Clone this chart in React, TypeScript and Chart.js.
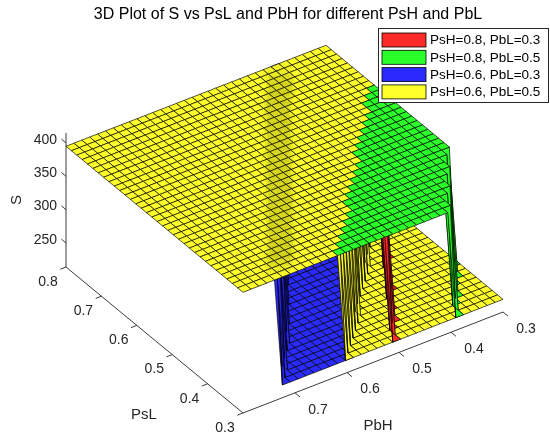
import React, { useEffect, useRef } from "react";
import { Chart, registerables } from "chart.js";

Chart.register(...registerables);

// ---------------- data ----------------
const TITLE = "3D Plot of S vs PsL and PbH for different PsH and PbL";

// surface grid (rows = PsL, columns = PbH)
const PSL = [0.3, 0.3152, 0.3303, 0.3455, 0.3606, 0.3758, 0.3909, 0.4061, 0.4212, 0.4364, 0.4515, 0.4667, 0.4818, 0.497, 0.5121, 0.5273, 0.5424, 0.5576, 0.5727, 0.5879, 0.603, 0.6182, 0.6333, 0.6485, 0.6636, 0.6788, 0.6939, 0.7091, 0.7242, 0.7394, 0.7545, 0.7697, 0.7848, 0.8];
const PBH = [0.3, 0.3152, 0.3303, 0.3455, 0.3606, 0.3758, 0.3909, 0.4061, 0.4212, 0.4364, 0.4515, 0.4667, 0.4818, 0.497, 0.5121, 0.5273, 0.5424, 0.5576, 0.5727, 0.5879, 0.603, 0.6182, 0.6333, 0.6485, 0.6636, 0.6788, 0.6939, 0.7091, 0.7242, 0.7394, 0.7545, 0.7697, 0.7848, 0.8];

const SERIES_LABELS = ["PsH=0.8, PbL=0.3", "PsH=0.8, PbL=0.5", "PsH=0.6, PbL=0.3", "PsH=0.6, PbL=0.5"];
const SERIES_COLORS = ["#ff2a2a", "#2aff2a", "#2a2aff", "#ffff2a"];
const S_HIGH = [395, 395, 395, 395];
const S_LOW = [233, 233, 233, 233];

// per PsL row: S takes its low value where PbH < bound
const BOUND_RED = [0.516, 0.507, 0.498, 0.489, 0.48, 0.471, 0.461, 0.452, 0.443, 0.434, 0.425, 0.416, 0.407, 0.398, 0.389, 0.38, 0.371, 0.362, 0.352, 0.343, 0.334, 0.325, 0.316, 0.307, 0.29, 0.29, 0.29, 0.29, 0.29, 0.29, 0.29, 0.29, 0.29, 0.29];
const BOUND_GREEN = [0.399, 0.389, 0.378, 0.368, 0.358, 0.347, 0.337, 0.327, 0.316, 0.306, 0.29, 0.29, 0.29, 0.29, 0.29, 0.29, 0.29, 0.29, 0.29, 0.29, 0.29, 0.29, 0.29, 0.29, 0.29, 0.29, 0.29, 0.29, 0.29, 0.29, 0.29, 0.29, 0.29, 0.29];
const BOUND_BLUE = [0.725, 0.715, 0.704, 0.694, 0.684, 0.673, 0.663, 0.653, 0.643, 0.632, 0.622, 0.612, 0.601, 0.591, 0.581, 0.57, 0.56, 0.55, 0.54, 0.529, 0.519, 0.509, 0.498, 0.488, 0.478, 0.467, 0.457, 0.447, 0.437, 0.426, 0.416, 0.406, 0.395, 0.385];
const BOUND_YELLOW = [0.605, 0.592, 0.579, 0.566, 0.553, 0.54, 0.527, 0.514, 0.501, 0.488, 0.475, 0.462, 0.449, 0.436, 0.423, 0.41, 0.397, 0.384, 0.371, 0.357, 0.344, 0.331, 0.318, 0.305, 0.29, 0.29, 0.29, 0.29, 0.29, 0.29, 0.29, 0.29, 0.29, 0.29];

const PSL_TICKS = [0.3, 0.4, 0.5, 0.6, 0.7, 0.8];
const PBH_TICKS = [0.3, 0.4, 0.5, 0.6, 0.7];
const S_TICKS = [250, 300, 350, 400];

const PSL_RANGE = [0.3, 0.8];
const PBH_RANGE = [0.3, 0.8];
const S_RANGE = [214, 415];

// ---------------- view (orthographic 3D camera) ----------------
const VIEW = {
  originX: 243,
  originY: 413,
  pslDX: -354,
  pslDY: -292,
  pbhDX: -520,
  pbhDY: 202,
  sDY: -0.667,
};
const FONT = "'Liberation Sans', Arial, Helvetica, sans-serif";
const AXIS_COLOR = "#262626";
// depth of the cliff edges that show through a coincident face (S units)
const SHOW_THROUGH = 30;

function project(psl: number, pbh: number, s: number) {
  const a = psl - PSL_RANGE[0];
  const b = pbh - PBH_RANGE[1];
  return {
    x: VIEW.originX + a * VIEW.pslDX + b * VIEW.pbhDX,
    y: VIEW.originY + a * VIEW.pslDY + b * VIEW.pbhDY + (s - S_RANGE[0]) * VIEW.sDY,
  };
}
// inverse projection onto the plane S = s
function unproject(x: number, y: number, s: number) {
  const det = VIEW.pslDX * VIEW.pbhDY - VIEW.pbhDX * VIEW.pslDY;
  const dx = x - VIEW.originX;
  const dy = y - VIEW.originY - (s - S_RANGE[0]) * VIEW.sDY;
  const a = (dx * VIEW.pbhDY - VIEW.pbhDX * dy) / det;
  const b = (VIEW.pslDX * dy - dx * VIEW.pslDY) / det;
  return { psl: PSL_RANGE[0] + a, pbh: PBH_RANGE[1] + b };
}
// larger = closer to the viewer
function nearness(psl: number, pbh: number, s: number) {
  return -6.8 * (psl - PSL_RANGE[0]) - 4.7 * (PBH_RANGE[1] - pbh) + 0.00732 * s;
}

const BOUNDS = [BOUND_RED, BOUND_GREEN, BOUND_BLUE, BOUND_YELLOW];
// which surface wins where two coincide (first wins)
const PRIORITY = [3, 1, 0, 2];

function sValue(k: number, i: number, j: number) {
  return PBH[j] < BOUNDS[k][i] ? S_LOW[k] : S_HIGH[k];
}

function buildDatasets() {
  const cells: { k: number; pts: { x: number; y: number }[]; depth: number }[] = [];
  const showThrough: { x: number; y: number }[][] = [];
  const n = PSL.length;
  for (let k = 0; k < 4; k++) {
    for (let i = 0; i < n - 1; i++) {
      for (let j = 0; j < PBH.length - 1; j++) {
        const idx = [
          [i, j],
          [i + 1, j],
          [i + 1, j + 1],
          [i, j + 1],
        ];
        const vals = idx.map(([a, b]) => sValue(k, a, b));
        // steep edges of the blue cliff lying just under the yellow top
        if (k === 2 && Math.max(...vals) !== Math.min(...vals)) {
          for (let q = 0; q < 4; q++) {
            const r = (q + 1) % 4;
            const hi = vals[q] > vals[r] ? q : vals[r] > vals[q] ? r : -1;
            if (hi < 0) continue;
            const lo = hi === q ? r : q;
            const f = SHOW_THROUGH / (vals[hi] - vals[lo]);
            const [ha, hb] = idx[hi];
            const [la, lb] = idx[lo];
            const p2 = PSL[ha] + (PSL[la] - PSL[ha]) * f;
            const b2 = PBH[hb] + (PBH[lb] - PBH[hb]) * f;
            const top = project(PSL[ha], PBH[hb], vals[hi]);
            const bot = project(p2, b2, vals[hi] - SHOW_THROUGH);
            // keep only the parts that are covered by the plateau above
            const cover = unproject(bot.x, bot.y, vals[hi]);
            if (cover.psl < PSL_RANGE[0] + 0.004 || cover.pbh > PBH_RANGE[1]) continue;
            showThrough.push([top, bot]);
          }
        }
        let hidden = false;
        for (const h of PRIORITY) {
          if (h === k) break;
          const hv = idx.map(([a, b]) => sValue(h, a, b));
          if (hv.every((v, q) => v === vals[q])) {
            hidden = true;
            break;
          }
        }
        if (hidden) continue;
        const pts = idx.map(([a, b], q) => project(PSL[a], PBH[b], vals[q]));
        let d = 0;
        idx.forEach(([a, b], q) => (d += nearness(PSL[a], PBH[b], vals[q])));
        cells.push({ k, pts, depth: d / 4 });
      }
    }
  }
  cells.sort((p, q) => p.depth - q.depth);
  const total = cells.length;
  const datasets: any[] = [];

  const seg = (a: { x: number; y: number }, b: { x: number; y: number }, color = AXIS_COLOR, w = 0.9, order = total + 10) => ({
    type: "line",
    data: [a, b],
    borderColor: color,
    borderWidth: w,
    pointRadius: 0,
    pointHoverRadius: 0,
    fill: false,
    order,
  });
  const s0 = S_RANGE[0];
  // axis lines
  datasets.push(seg(project(PSL_RANGE[0], PBH_RANGE[1], s0), project(PSL_RANGE[1], PBH_RANGE[1], s0)));
  datasets.push(seg(project(PSL_RANGE[0], PBH_RANGE[1], s0), project(PSL_RANGE[0], PBH_RANGE[0], s0)));
  datasets.push(seg(project(PSL_RANGE[1], PBH_RANGE[1], s0), project(PSL_RANGE[1], PBH_RANGE[1], S_RANGE[1])));
  // tick marks
  PSL_TICKS.forEach((t) => datasets.push(seg(project(t, PBH_RANGE[1], s0), project(t, PBH_RANGE[1] + 0.011, s0))));
  PBH_TICKS.forEach((t) => datasets.push(seg(project(PSL_RANGE[0], t, s0), project(PSL_RANGE[0] - 0.014, t, s0))));
  S_TICKS.forEach((t) => datasets.push(seg(project(PSL_RANGE[1], PBH_RANGE[1], t), project(PSL_RANGE[1] + 0.013, PBH_RANGE[1], t))));

  cells.forEach((c, idx) => {
    datasets.push({
      type: "line",
      label: SERIES_LABELS[c.k],
      data: [...c.pts, c.pts[0]],
      borderColor: "rgba(0,0,0,0.9)",
      borderWidth: 0.75,
      backgroundColor: SERIES_COLORS[c.k],
      fill: "shape",
      pointRadius: 0,
      pointHoverRadius: 0,
      pointHitRadius: 0,
      tension: 0,
      borderJoinStyle: "miter",
      order: total - idx,
    });
  });
  showThrough.forEach(([a, b]) => datasets.push(seg(a, b, "rgba(70,70,0,0.024)", 26, 0)));
  return datasets;
}

const textPlugin = {
  id: "matlabText",
  afterDraw(chart: any) {
    const { ctx } = chart;
    const sx = chart.scales.x;
    const sy = chart.scales.y;
    const P = (psl: number, pbh: number, s: number) => {
      const p = project(psl, pbh, s);
      return [sx.getPixelForValue(p.x), sy.getPixelForValue(p.y)];
    };
    ctx.save();
    ctx.fillStyle = AXIS_COLOR;
    ctx.textBaseline = "middle";
    ctx.font = `14px ${FONT}`;
    ctx.textAlign = "center";
    PSL_TICKS.forEach((t) => {
      const [x, y] = P(t, PBH_RANGE[1], S_RANGE[0]);
      ctx.fillText(t.toFixed(1), x - 18, y + 15);
    });
    PBH_TICKS.forEach((t) => {
      const [x, y] = P(PSL_RANGE[0], t, S_RANGE[0]);
      ctx.fillText(t.toFixed(1), x + 23, y + 17);
    });
    ctx.textAlign = "right";
    S_TICKS.forEach((t) => {
      const [x, y] = P(PSL_RANGE[1], PBH_RANGE[1], t);
      ctx.fillText(String(t), x - 9, y - 3);
    });
    ctx.font = `15px ${FONT}`;
    ctx.textAlign = "center";
    ctx.fillText("PsL", 144, 415);
    ctx.fillText("PbH", 378, 426);
    ctx.save();
    ctx.translate(17, 200);
    ctx.rotate(-Math.PI / 2);
    ctx.fillText("S", 0, 0);
    ctx.restore();

    ctx.fillStyle = "#000";
    ctx.font = `16px ${FONT}`;
    ctx.fillText(TITLE, 288, 15);

    // legend
    const lx = 378.5, ly = 28.5, lw = 170, lh = 74;
    ctx.fillStyle = "#fff";
    ctx.fillRect(lx, ly, lw, lh);
    ctx.strokeStyle = "#262626";
    ctx.lineWidth = 1;
    ctx.strokeRect(lx, ly, lw, lh);
    ctx.font = `13.5px ${FONT}`;
    ctx.textAlign = "left";
    SERIES_LABELS.forEach((lab, r) => {
      const cy = 40 + r * 17.3;
      ctx.fillStyle = SERIES_COLORS[r];
      ctx.fillRect(382, cy - 7, 44, 14);
      ctx.strokeStyle = "#000";
      ctx.lineWidth = 0.8;
      ctx.strokeRect(382, cy - 7, 44, 14);
      ctx.fillStyle = "#000";
      ctx.fillText(lab, 430, cy + 0.5);
    });
    ctx.restore();
  },
};

export default function App() {
  const ref = useRef<HTMLCanvasElement | null>(null);
  useEffect(() => {
    if (!ref.current) return;
    const chart = new Chart(ref.current, {
      type: "line",
      data: { datasets: buildDatasets() },
      options: {
        responsive: false,
        animation: false,
        events: [],
        devicePixelRatio: 1,
        layout: { padding: 0 },
        scales: {
          x: { type: "linear", min: 0, max: 550, display: false },
          y: { type: "linear", min: 0, max: 442, reverse: true, display: false },
        },
        plugins: {
          legend: { display: false },
          tooltip: { enabled: false },
          title: { display: false },
        },
      },
      plugins: [textPlugin],
    } as any);
    return () => chart.destroy();
  }, []);
  return (
    <div style={{ position: "fixed", left: 0, top: 0, width: 550, height: 442, background: "#fff" }}>
      <canvas ref={ref} width={550} height={442} style={{ display: "block", width: 550, height: 442 }} />
    </div>
  );
}
